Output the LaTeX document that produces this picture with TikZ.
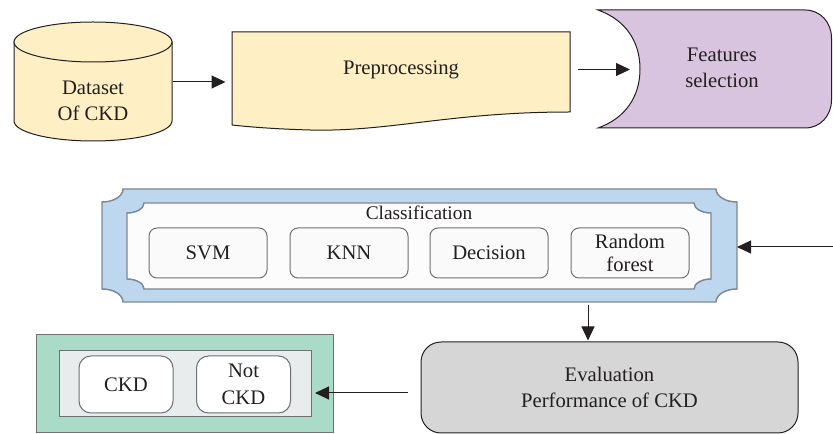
\documentclass[tikz,border=0pt]{standalone}
\usepackage{fontspec}
\setmainfont{Liberation Serif}
\newfontfamily\diagfont{Liberation Serif}
\usetikzlibrary{arrows.meta}

\definecolor{dbyellow}{RGB}{254,239,196}
\definecolor{selpurple}{RGB}{217,196,223}
\definecolor{clsblue}{RGB}{189,215,238}
\definecolor{clsedge}{RGB}{125,135,150}
\definecolor{resgreen}{RGB}{170,219,200}
\definecolor{resgray}{RGB}{232,236,236}
\definecolor{evalgray}{RGB}{214,214,214}
\definecolor{ink}{RGB}{35,31,32}
\definecolor{boxedge}{RGB}{110,112,115}

\tikzset{every picture/.style={line width=0.75pt}}
\tikzset{
  lbl/.style={align=center, text=ink, font=\diagfont\fontsize{15.5}{19}\selectfont, inner sep=0.75pt},
  algbox/.style={lbl, draw=boxedge, fill=white!98!black, rounded corners=6pt, minimum width=88.5pt, minimum height=37.5pt},
  outbox/.style={lbl, draw=boxedge, fill=white, rounded corners=9pt, minimum width=70.5pt, minimum height=42.75pt},
  flow/.style={draw=ink, -{Triangle[length=10.5pt,width=9.75pt]}},
}

\begin{document}
\begin{tikzpicture}[x=0.75pt,y=0.75pt,yscale=-1]
			\useasboundingbox (0,0) rectangle (833,434);
			% top row
			\draw [draw=ink, fill=dbyellow] (14,42) -- (14,121) arc [start angle=180, end angle=0, x radius=79, y radius=20] -- (172,42) -- cycle;
			\draw [draw=ink, fill=dbyellow] (93,42) ellipse [x radius=79, y radius=20];
			\node [lbl] (dataset) at (93,101) {Dataset\\Of CKD};
			\draw [draw=ink, fill=dbyellow] (232,32) -- (570,32) -- (570,112) .. controls (450,112) and (390,132) .. (310,130) .. controls (275,129) and (250,127) .. (232,125) -- cycle;
			\node [lbl, minimum width=253.5pt] (prep) at (401,69.5) {Preprocessing};
			\draw [draw=ink, fill=selpurple] (598,10) -- (805,10) .. controls (820.5,10) and (831.5,22.5) .. (831.5,38) -- (831.5,100) .. controls (831.5,115.5) and (820.5,128) .. (805,128) -- (598,128) .. controls (626,118) and (640,96) .. (640,69) .. controls (640,42) and (626,20) .. (598,10) -- cycle;
			\node [lbl] (feat) at (722,68) {Features\\selection};
			\coordinate (dbout) at (172,82);
			\coordinate (featin) at (639,69.5);
			\draw [flow, shorten <=0.75pt, shorten >=4.5pt] (dbout) -- (dbout -| prep.west);
			\draw [flow, shorten <=5.25pt, shorten >=6.75pt] (prep.east) -- (featin);
			% classification frame
			\draw [draw=clsedge, fill=clsblue, line width=1.1pt] (123,189) -- (716,189) .. controls (716,196) and (725,202) .. (737,202) -- (737,289) .. controls (725,289) and (716,295) .. (716,302) -- (123,302) .. controls (123,295) and (114,289) .. (102,289) -- (102,202) .. controls (114,202) and (123,196) .. (123,189) -- cycle;
			\draw [draw=clsedge, fill=white!99!black, line width=1.1pt] (144,203) -- (694,203) .. controls (694,208.5) and (701.6,213) .. (711,213) -- (711,279) .. controls (701.6,279) and (694,283.5) .. (694,289) -- (144,289) .. controls (144,283.5) and (136.4,279) .. (127,279) -- (127,213) .. controls (136.4,213) and (144,208.5) .. (144,203) -- cycle;
			\node [lbl, font=\diagfont\fontsize{14.5}{17}\selectfont] (clstitle) at (419,213) {Classification};
			\node [algbox] (svm) at (208,253) {SVM};
			\node [algbox] (knn) at (349,253) {KNN};
			\node [algbox] (dt) at (489,253) {Decision};
			\node [algbox, font=\diagfont\fontsize{15.5}{17}\selectfont] (rf) at (630,253) {Random\\forest};
			\coordinate (clsR) at (737,247);
			\coordinate (clsB) at (588,302);
			\coordinate (selback) at (833,247);
			\draw [flow] (selback) -- (clsR);
			% evaluation and result
			\node [lbl, draw=ink, fill=evalgray, rounded corners=15pt, minimum width=282.75pt, minimum height=68.25pt, font=\diagfont\fontsize{15.5}{20}\selectfont] (eval) at (609.5,387.5) {Evaluation\\Performance of CKD};
			\draw [flow, shorten <=2.25pt, shorten >=0.75pt] (clsB) -- (clsB |- eval.north);
			\draw [draw=boxedge, fill=resgreen] (36,335) rectangle (333,433);
			\draw [draw=boxedge, fill=resgray] (59,351) rectangle (311,417);
			\node [outbox] (ckd) at (126,384.5) {CKD};
			\node [outbox, font=\diagfont\fontsize{15.5}{20}\selectfont] (nckd) at (243.5,384.5) {Not\\CKD};
			\coordinate (resR) at (311,393);
			\draw [flow, shorten <=9.75pt, shorten >=3pt] (eval.west |- resR) -- (resR);
		\end{tikzpicture}
\end{document}
